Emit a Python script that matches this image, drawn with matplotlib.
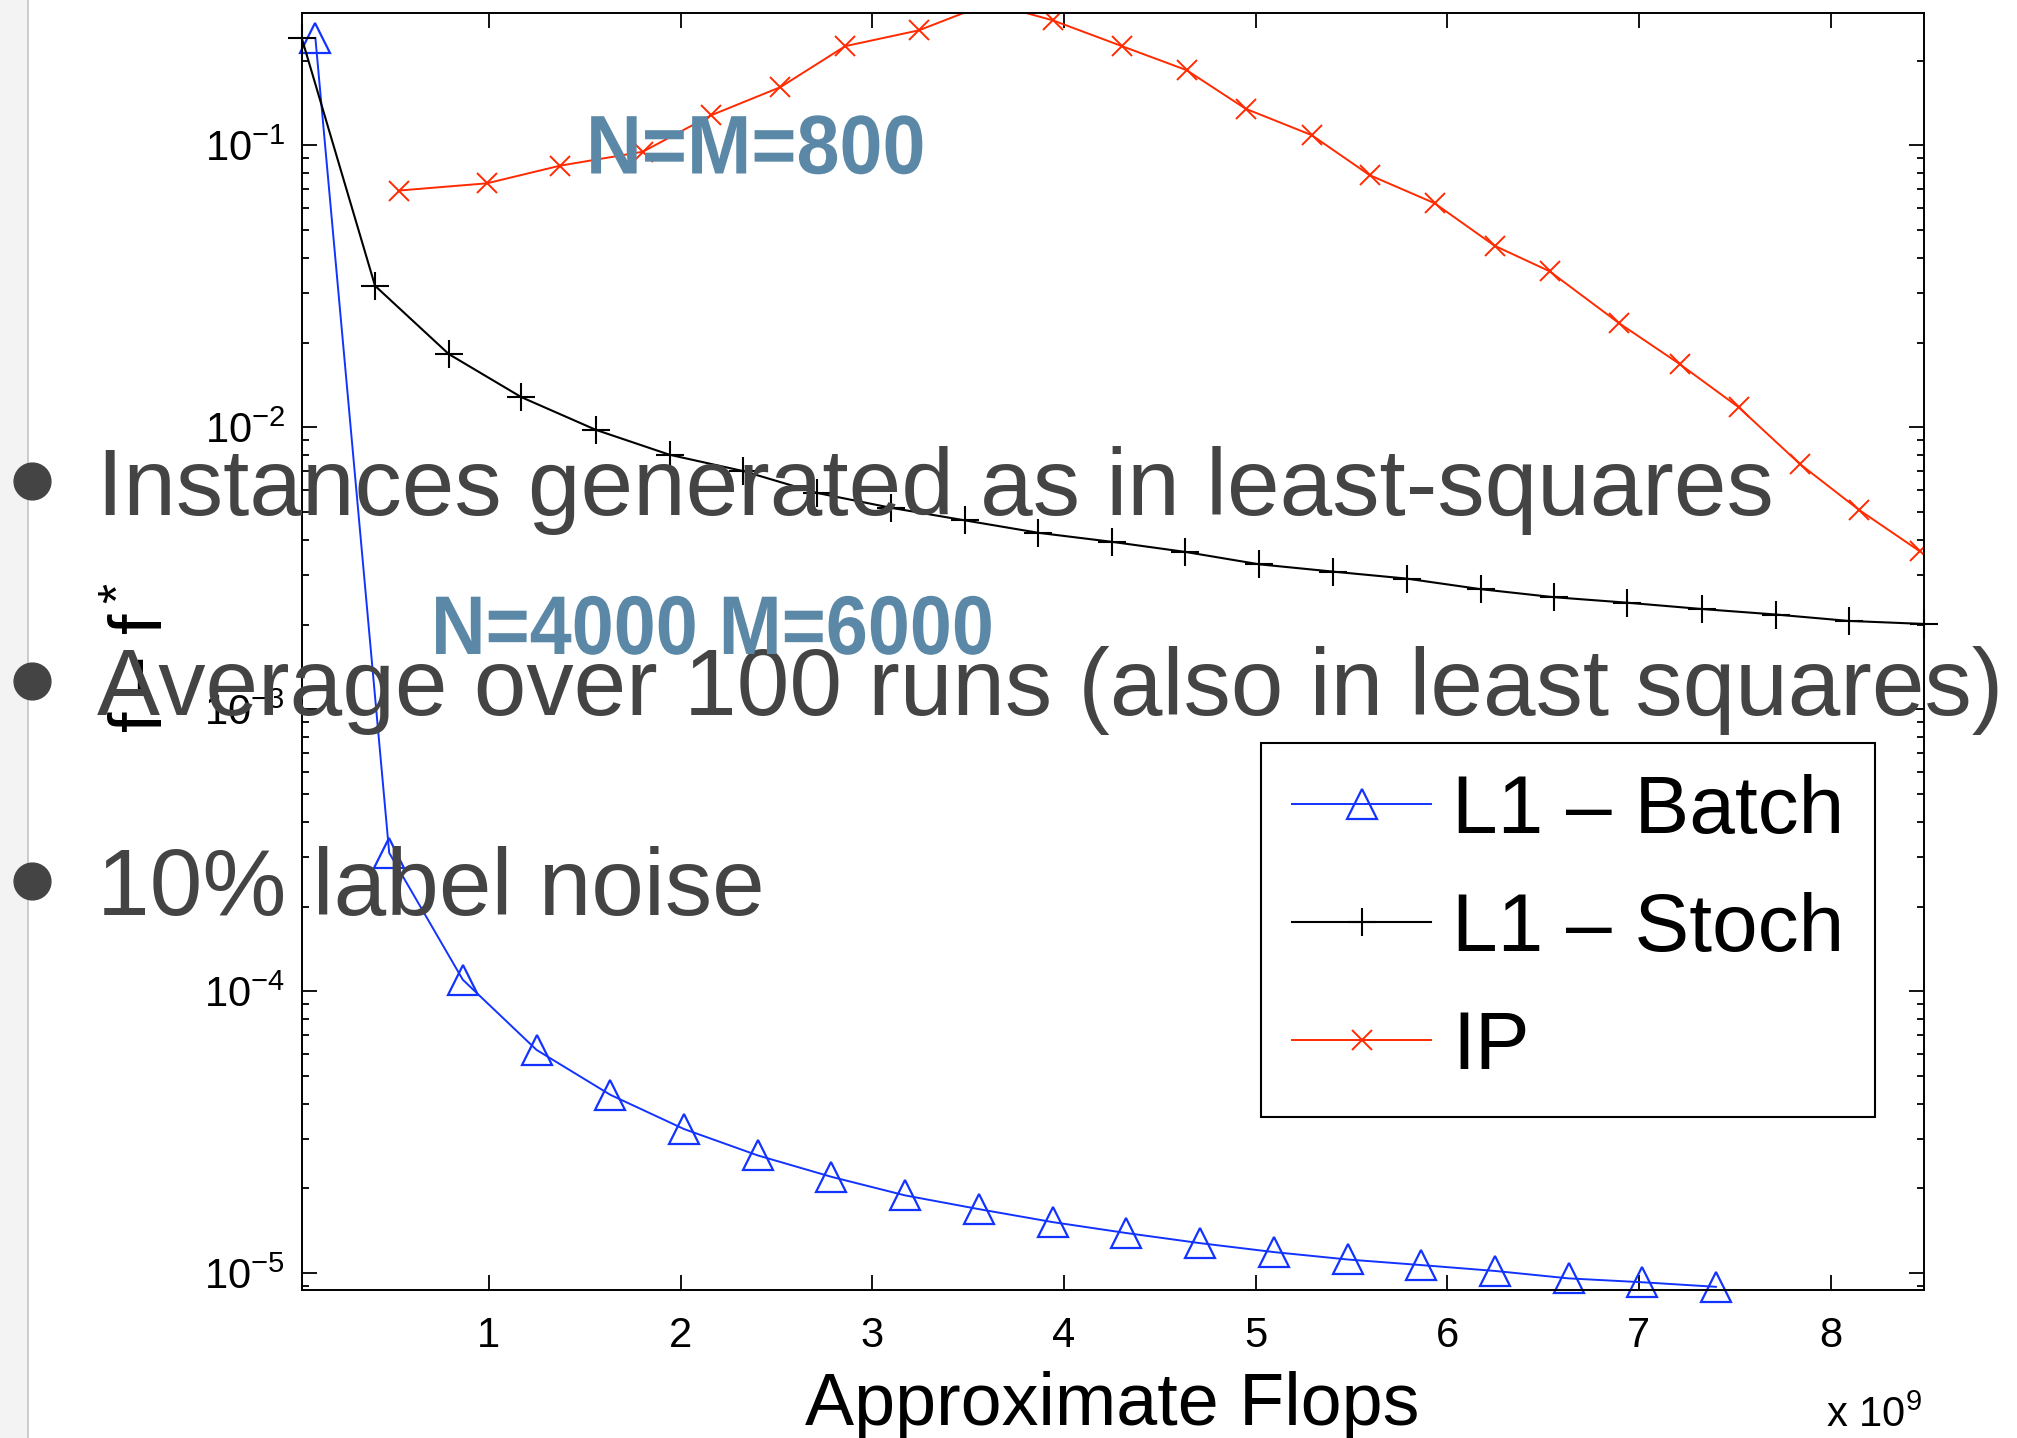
# Сходимость L1-методов и метода внутренней точки (слайд с графиком)

import matplotlib.pyplot as plt
from matplotlib.lines import Line2D
from matplotlib.patches import Rectangle, PathPatch
from matplotlib.textpath import TextPath
from matplotlib.font_manager import FontProperties
from matplotlib.transforms import Affine2D, IdentityTransform
from matplotlib.ticker import LogLocator, NullFormatter

# Данные: ось x в единицах 1e9 флопс
batch_x = [0.095, 0.480, 0.864, 1.249, 1.633, 2.018, 2.403, 2.787, 3.172, 3.556,
           3.941, 4.326, 4.710, 5.095, 5.480, 5.864, 6.249, 6.633, 7.018, 7.402]
batch_y = [0.24, 3.1e-4, 1.1e-4, 6.2e-5, 4.3e-5, 3.25e-5, 2.62e-5, 2.2e-5, 1.89e-5, 1.69e-5,
           1.52e-5, 1.39e-5, 1.28e-5, 1.19e-5, 1.12e-5, 1.07e-5, 1.02e-5, 9.6e-6, 9.3e-6, 8.96e-6]

stoch_x = [0.024, 0.406, 0.791, 1.170, 1.559, 1.943, 2.328, 2.711, 3.097, 3.485, 3.867, 4.250,
           4.632, 5.020, 5.406, 5.789, 6.174, 6.557, 6.940, 7.329, 7.715, 8.094, 8.485]
stoch_y = [0.24, 0.0318, 0.0182, 0.0128, 0.0098, 0.0080, 0.0070, 0.00586, 0.00519, 0.00468,
           0.00423, 0.00393, 0.00362, 0.00327, 0.00308, 0.00291, 0.00267, 0.00250, 0.00239,
           0.00227, 0.00217, 0.00206, 0.00201]

ip_x = [0.530, 0.989, 1.372, 1.803, 2.160, 2.521, 2.859, 3.243, 3.611, 3.941, 4.303, 4.640,
        4.948, 5.293, 5.595, 5.934, 6.247, 6.534, 6.894, 7.212, 7.520, 7.839, 8.147, 8.465]
ip_y = [0.0692, 0.0734, 0.0848, 0.0950, 0.128, 0.161, 0.225, 0.256, 0.32, 0.278, 0.225, 0.185,
        0.135, 0.1088, 0.0785, 0.0624, 0.0441, 0.0358, 0.0235, 0.0168, 0.0118, 0.00743,
        0.00511, 0.00364]

x_ticks = [1, 2, 3, 4, 5, 6, 7, 8]
x_lim = (0.024, 8.485)
y_lim = (8.73e-6, 0.294)

bullets = ['Instances generated as in least-squares',
           'Average over 100 runs (also in least squares)',
           '10% label noise']

W, H = 2017, 1438


# Пиксели -> доли фигуры
def fx(px):
    return px / W


def fy(py):
    return 1 - py / H


# Узкий жирный текст (сжатие по горизонтали), координаты в пикселях сверху-слева
def condensed_text(fig, s, x, y, size, sx, color):
    tp = TextPath((0, 0), s, size=size,
                  prop=FontProperties(family='Liberation Sans', weight='bold'))
    path = Affine2D().scale(sx, 1).translate(x, H - y).transform_path(tp)
    fig.add_artist(PathPatch(path, transform=IdentityTransform(), facecolor=color,
                             edgecolor='none', zorder=5))


plt.rcParams['font.family'] = ['Liberation Sans', 'DejaVu Sans']
plt.rcParams['mathtext.default'] = 'regular'

fig = plt.figure(figsize=(W / 100, H / 100), dpi=100)

# Серая полоса слева (край слайда)
fig.add_artist(Rectangle((0, 0), fx(27), 1, transform=fig.transFigure,
                         facecolor='#f3f3f3', edgecolor='none', zorder=0))
fig.add_artist(Line2D([fx(28), fx(28)], [0, 1], transform=fig.transFigure,
                      color='#c4c4c4', lw=1.2, zorder=1))

ax = fig.add_axes([fx(301.8), fy(1290), fx(1923.5) - fx(301.8), fy(13.4) - fy(1290)])

ax.plot(batch_x, batch_y, color='#1233ff', lw=1.4, marker='^', ms=22, mfc='none',
        mew=1.6, label='L1 – Batch', clip_on=False)
ax.plot(stoch_x, stoch_y, color='black', lw=1.5, marker='+', ms=20, mew=1.5,
        label='L1 – Stoch', clip_on=False)
ax.plot(ip_x, ip_y, color='#ff2a00', lw=1.4, marker='x', ms=15, mew=1.4, label='IP')

ax.set_yscale('log')
ax.set_xlim(*x_lim)
ax.set_ylim(*y_lim)
ax.set_xticks(x_ticks)
ax.set_xticklabels([str(t) for t in x_ticks])
ax.yaxis.set_major_locator(LogLocator(base=10))
ax.yaxis.set_minor_locator(LogLocator(base=10, subs=range(2, 10)))
ax.yaxis.set_minor_formatter(NullFormatter())

for s in ax.spines.values():
    s.set_linewidth(1.4)
ax.tick_params(which='both', direction='in', top=True, right=True, labelsize=30, width=1.3)
ax.tick_params(which='major', length=11)
ax.tick_params(which='minor', length=5)
ax.tick_params(axis='x', pad=19)
ax.tick_params(axis='y', pad=12)

ax.set_xlabel('Approximate Flops', fontsize=53, va='baseline')
ax.xaxis.set_label_coords(0.5, -0.1058)
ax.set_ylabel('f – f$^*$', fontsize=53, va='baseline')
ax.yaxis.set_label_coords(-0.0856, 0.495)

fig.text(fx(1922), fy(1427), 'x 10$^9$', ha='right', va='baseline', fontsize=30)

leg = ax.legend(loc='upper left', bbox_to_anchor=(0.5915, 0.4285), fontsize=59,
                handlelength=1.7, handletextpad=0.25, labelspacing=0.51, borderpad=0.38,
                borderaxespad=0, fancybox=False, edgecolor='black', framealpha=1)
leg.get_frame().set_linewidth(1.5)

# Надписи поверх графика
condensed_text(fig, 'N=M=800', 586, 173.5, 83.3, 0.928, '#5b88a6')
condensed_text(fig, 'N=4000 M=6000', 431, 654, 83.3, 0.907, '#5b88a6')

for i, b in enumerate(bullets):
    base = 515 + 200 * i
    fig.add_artist(Line2D([fx(31.7)], [fy(base - 34.5)], transform=fig.transFigure,
                          marker='o', ms=26.5, color='#444444', lw=0))
    fig.text(fx(96.5), fy(base), b, fontsize=68, color='#444444', va='baseline')

fig.savefig('out.png', dpi=100)
